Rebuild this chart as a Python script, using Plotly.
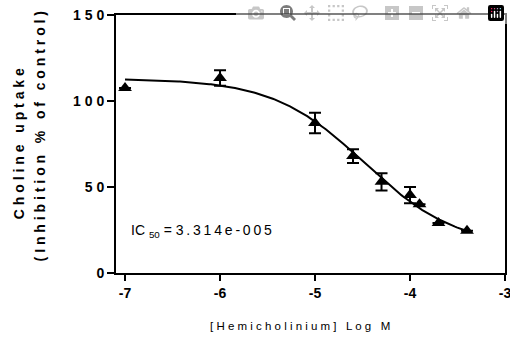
import numpy as np
import plotly.graph_objects as go

# Data
log_conc = [-7.0, -6.0, -5.0, -4.6, -4.3, -4.0, -3.9, -3.7, -3.4]
uptake = [107.6, 113.4, 87.2, 68.0, 53.0, 45.3, 40.0, 29.0, 24.5]
sem = [0.0, 4.5, 6.0, 4.0, 5.0, 4.7, 0.0, 0.0, 0.0]

# Fitted 4-parameter logistic (IC50 as reported on the chart)
fit_top = 113.0
fit_bottom = 15.0
fit_ic50 = 3.314e-5
fit_hill = 0.9
fit_range = [-7.0, -3.4]

y_tick_vals = [0, 50, 100, 150]
x_tick_vals = [-7, -6, -5, -4, -3]

FONT = "Liberation Sans, Arial, sans-serif"


def spaced(s, sep=" "):
    return sep.join(list(s))


log_ic50 = np.log10(fit_ic50)
xc = np.linspace(fit_range[0], fit_range[1], 200)
yc = fit_bottom + (fit_top - fit_bottom) / (1 + 10 ** ((xc - log_ic50) * fit_hill))

fig = go.Figure()
fig.add_trace(go.Scatter(x=xc, y=yc, mode="lines",
                         line=dict(color="black", width=2), hoverinfo="skip"))
fig.add_trace(go.Scatter(
    x=log_conc, y=uptake, mode="markers",
    marker=dict(symbol="triangle-up", size=12, color="black"),
    error_y=dict(type="data", array=sem, visible=True, color="black",
                 thickness=2, width=6),
))

fig.update_layout(
    width=510, height=345,
    margin=dict(l=116, r=5, t=15, b=72),
    paper_bgcolor="white", plot_bgcolor="white",
    showlegend=False,
    font=dict(family=FONT, color="black"),
    xaxis=dict(
        range=[-7.095, -3], showgrid=False, zeroline=False, automargin=False,
        ticklabeloverflow="allow",
        showline=True, linecolor="black", linewidth=2, mirror=True,
        ticks="outside", ticklen=6, tickwidth=2, tickcolor="black",
        tickvals=x_tick_vals,
        ticktext=["<b>" + str(v) + "</b>" for v in x_tick_vals],
        tickfont=dict(size=14, family=FONT),
    ),
    yaxis=dict(
        range=[0, 150], showgrid=False, zeroline=False, automargin=False,
        ticklabeloverflow="allow",
        showline=True, linecolor="black", linewidth=2, mirror=True,
        ticks="outside", ticklen=7, tickwidth=2, tickcolor="black",
        tickvals=y_tick_vals,
        ticktext=["<b>" + spaced(str(v)) + "</b>" for v in y_tick_vals],
        tickfont=dict(size=14, family=FONT),
    ),
)

fig.add_annotation(x=-0.249, y=0.5, xref="paper", yref="paper",
                   text="<b>" + spaced("Choline uptake") + "</b>", textangle=-90,
                   showarrow=False, font=dict(size=14, family=FONT),
                   xanchor="center", yanchor="middle")
fig.add_annotation(x=-0.195, y=0.53, xref="paper", yref="paper",
                   text="<b>" + spaced("(Inhibition % of control)") + "</b>", textangle=-90,
                   showarrow=False, font=dict(size=14, family=FONT),
                   xanchor="center", yanchor="middle")
fig.add_annotation(x=0.473, y=-0.205, xref="paper", yref="paper",
                   text=spaced("[Hemicholinium] Log M"),
                   showarrow=False, font=dict(size=11.5, family=FONT),
                   xanchor="center", yanchor="middle")
fig.add_annotation(x=-6.958, y=24.5, xref="x", yref="y",
                   text="IC <sub>50</sub> = " + spaced("3.314e-005", "\u2009"),
                   showarrow=False, font=dict(size=14, family=FONT),
                   xanchor="left", yanchor="middle")

# remove the default page margin so the figure sits at the window's corner
fig.write_html(
    "out.html",
    post_script="document.body.style.margin='0';"
                "document.documentElement.style.overflow='hidden';",
)
